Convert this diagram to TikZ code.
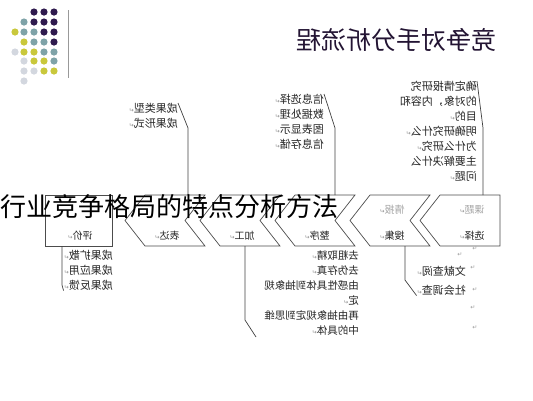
\documentclass[tikz,border=0pt]{standalone}
\usepackage{fontspec}
\setmainfont{Noto Sans CJK SC}
\newfontfamily\symfont{DejaVu Sans}
\usetikzlibrary{positioning}
\definecolor{dotpurple}{HTML}{2F1B4E}
\definecolor{dotteal}{HTML}{7FA3A8}
\definecolor{dotyellow}{HTML}{C9C83C}
\definecolor{dotgray}{HTML}{D3D7DF}
\definecolor{titlec}{HTML}{231433}
\newcommand{\retmark}{{\symfont\fontsize{6}{6}\selectfont\color{black!45}↵}}
\tikzset{
	mirror/.style={xscale=-1},
	chev/.style={draw=black!70,line width=0.7pt,fill=white},
	link/.style={draw=black!75,line width=0.7pt},
	lab/.style={font=\fontsize{10}{12}\selectfont,text=black!85,inner sep=0pt},
	labtop/.style={lab,text=black!35},
	blk/.style={font=\fontsize{11}{15}\selectfont,align=left,inner sep=0pt,text=black!85},
	stray/.style={inner sep=0pt,font=\symfont\fontsize{6}{6}\selectfont,text=black!40}
}

\begin{document}
\begin{tikzpicture}[x=1pt,y=-1pt]
	\useasboundingbox (0,0) rectangle (533,400);
	% dots in the corner
	\foreach \x/\y/\c in {34/12/dotpurple,44/12/dotpurple,54/12/dotpurple,
		24/22/dotteal,34/22/dotpurple,44/22/dotpurple,54/22/dotpurple,
		15/32/dotyellow,24/32/dotteal,34/32/dotteal,44/32/dotpurple,54/32/dotpurple,
		24/42/dotyellow,34/42/dotteal,44/42/dotteal,54/42/dotpurple,
		15/52/dotgray,24/52/dotyellow,34/52/dotyellow,44/52/dotteal,54/52/dotteal,
		24/61/dotgray,34/61/dotyellow,44/61/dotyellow,54/61/dotteal,
		24/71/dotgray,34/71/dotgray,44/71/dotyellow,54/71/dotyellow,
		24/81/dotgray}
		\fill[\c] (\x,\y) circle (3.6pt);
	\draw[black!40,line width=1pt] (68,10) -- (68,78);
	\node[mirror,font=\fontsize{25}{25}\selectfont,text=titlec] (title) at (396,40) {竞争对手分析流程};
	% chevrons
	\draw[chev] (420,220.5) -- (440,195) -- (500,195) -- (500,246) -- (440,246) -- cycle;
	\foreach \l/\r in {350/430,275/355,200/280,125/205}
		\draw[chev] (\l,220.5) -- (\l+20,195) -- (\r,195) -- (\r-20,220.5) -- (\r,246) -- (\l+20,246) -- cycle;
	\draw[chev] (45,195) rectangle (112,246);
	\node[labtop,mirror] (kt) at (472,210) {课题\retmark};
	\node[lab,mirror] (xz) at (472,236) {选择\retmark};
	\node[labtop,mirror] (qb) at (392,210) {情报\retmark};
	\node[lab,mirror] (sj) at (392,236) {搜集\retmark};
	\node[lab,mirror] (zx) at (317,236) {整序\retmark};
	\node[lab,mirror] (jg) at (242,236) {加工\retmark};
	\node[lab,mirror] (bd) at (167,236) {表达\retmark};
	\node[lab,mirror] (pj) at (80,236) {评价\retmark};
	% text blocks
	\node[blk,mirror,anchor=north west] (xzt) at (477,81) {确定情报研究\\的对象，内容和\\目的\retmark\\明确研究什么\retmark\\为什么研究\retmark\\主要解决什么\\问题\retmark};
	\node[blk,mirror,anchor=north west] (zxt) at (324,94) {信息选择\retmark\\数据处理\retmark\\图表显示\retmark\\信息存储\retmark};
	\node[blk,mirror,anchor=north west] (bdt) at (178,103) {成果类型\retmark\\成果形式\retmark};
	\node[blk,mirror,anchor=north west] (sjt) at (466,266) {文献查阅\retmark\\[4pt]社会调查\retmark};
	\node[blk,mirror,anchor=north west,font=\fontsize{10.5}{15}\selectfont] (jgt) at (359,250) {去粗取精\retmark\\去伪存真\retmark\\由感性具体到抽象规\\定\retmark\\再由抽象规定到思维\\中的具体\retmark};
	\node[blk,mirror,anchor=north west] (pjt) at (113,250) {成果扩散\retmark\\成果应用\retmark\\成果反馈\retmark};
	% brackets
	\coordinate (xzc) at (483,195);
	\coordinate (zxc) at (335,195);
	\coordinate (bdc) at (188,195);
	\coordinate (sjc) at (405,246);
	\coordinate (jgc) at (245,246);
	\coordinate (pjc) at (62,246);
	\draw[link] (xzc) -- (483,128) -- (xzt.north west);
	\draw[link] (zxc) -- (335,128) -- (zxt.north west);
	\draw[link] (bdc) -- (188,128) -- (bdt.north west);
	\draw[link] (sjc) -- (405,280) -- (sjt.south east);
	\draw[link] (jgc) -- (245,320) -- (256,337);
	\draw[link] (pjc) -- (62,285) -- (pjt.south east);
	\foreach \x/\y in {475/249,460/255,473/268,475/290,473/308,475/328}
		\node[stray] at (\x,\y) {↵};
	% caption over the flow
	\node[font=\fontsize{26}{26}\selectfont,anchor=west,inner sep=0pt] (hy) at (0,207) {行业竞争格局的特点分析方法};
\end{tikzpicture}
\end{document}
